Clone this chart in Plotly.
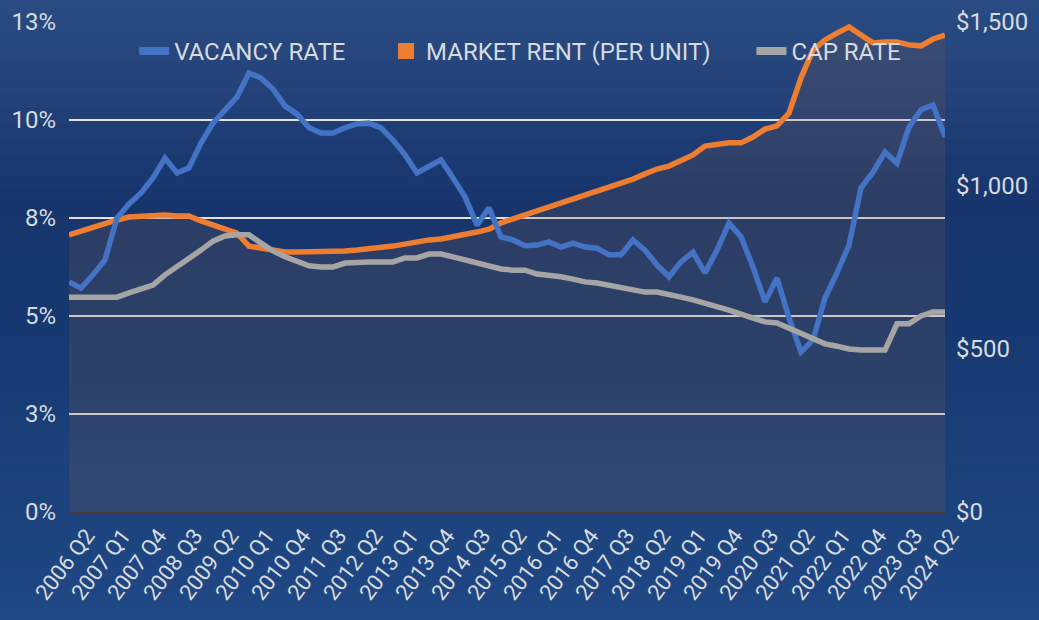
import plotly.graph_objects as go

quarters = [
    "2006 Q2", "2006 Q3", "2006 Q4",
    "2007 Q1", "2007 Q2", "2007 Q3", "2007 Q4",
    "2008 Q1", "2008 Q2", "2008 Q3", "2008 Q4",
    "2009 Q1", "2009 Q2", "2009 Q3", "2009 Q4",
    "2010 Q1", "2010 Q2", "2010 Q3", "2010 Q4",
    "2011 Q1", "2011 Q2", "2011 Q3", "2011 Q4",
    "2012 Q1", "2012 Q2", "2012 Q3", "2012 Q4",
    "2013 Q1", "2013 Q2", "2013 Q3", "2013 Q4",
    "2014 Q1", "2014 Q2", "2014 Q3", "2014 Q4",
    "2015 Q1", "2015 Q2", "2015 Q3", "2015 Q4",
    "2016 Q1", "2016 Q2", "2016 Q3", "2016 Q4",
    "2017 Q1", "2017 Q2", "2017 Q3", "2017 Q4",
    "2018 Q1", "2018 Q2", "2018 Q3", "2018 Q4",
    "2019 Q1", "2019 Q2", "2019 Q3", "2019 Q4",
    "2020 Q1", "2020 Q2", "2020 Q3", "2020 Q4",
    "2021 Q1", "2021 Q2", "2021 Q3", "2021 Q4",
    "2022 Q1", "2022 Q2", "2022 Q3", "2022 Q4",
    "2023 Q1", "2023 Q2", "2023 Q3", "2023 Q4",
    "2024 Q1", "2024 Q2", "2024 Q3",
]

vacancy_rate = [
    5.87, 5.71, 6.05, 6.43, 7.50, 7.86, 8.14, 8.52, 9.03, 8.65,
    8.78, 9.41, 9.92, 10.26, 10.59, 11.20, 11.07, 10.79, 10.36, 10.15,
    9.80, 9.67, 9.67, 9.80, 9.90, 9.92, 9.80, 9.49, 9.11, 8.65,
    8.80, 8.98, 8.52, 8.04, 7.32, 7.76, 7.02, 6.94, 6.79, 6.81,
    6.89, 6.76, 6.86, 6.76, 6.73, 6.56, 6.56, 6.94, 6.68, 6.30,
    6.00, 6.38, 6.63, 6.10, 6.68, 7.37, 7.02, 6.25, 5.36, 5.97,
    4.95, 4.08, 4.39, 5.46, 6.10, 6.81, 8.27, 8.67, 9.18, 8.90,
    9.82, 10.26, 10.38, 9.57,
]

market_rent = [
    848, 860, 872, 885, 894, 903, 906, 909, 909, 906,
    906, 891, 879, 866, 854, 814, 808, 802, 796, 796,
    796, 796, 799, 799, 802, 805, 808, 814, 820, 827,
    833, 836, 842, 848, 857, 866, 885, 897, 909, 921,
    934, 943, 955, 967, 980, 995, 1004, 1019, 1035, 1050,
    1059, 1078, 1093, 1120, 1127, 1130, 1130, 1148, 1172, 1182,
    1221, 1329, 1414, 1445, 1466, 1485, 1460, 1436, 1439, 1439,
    1430, 1427, 1448, 1460,
]

cap_rate = [
    5.48, 5.48, 5.48, 5.48, 5.48, 5.59, 5.69, 5.79, 6.05, 6.25,
    6.45, 6.68, 6.91, 7.04, 7.07, 7.07, 6.86, 6.66, 6.51, 6.38,
    6.28, 6.25, 6.25, 6.35, 6.38, 6.38, 6.38, 6.38, 6.48, 6.48,
    6.58, 6.58, 6.51, 6.43, 6.35, 6.25, 6.20, 6.17, 6.17, 6.07,
    6.05, 6.00, 5.94, 5.87, 5.84, 5.79, 5.71, 5.66, 5.61, 5.61,
    5.56, 5.48, 5.41, 5.33, 5.23, 5.15, 5.05, 4.95, 4.85, 4.82,
    4.69, 4.57, 4.41, 4.29, 4.23, 4.16, 4.13, 4.13, 4.13, 4.80,
    4.80, 5.00, 5.10, 5.10,
]

series_names = ["VACANCY RATE", "MARKET RENT (PER UNIT)", "CAP RATE"]
x_tick_labels = quarters[::3]
pct_tick_vals = [0, 2.5, 5, 7.5, 10, 12.5]
pct_tick_text = ["0%", "3%", "5%", "8%", "10%", "13%"]
rent_tick_vals = [0, 500, 1000, 1500]
rent_tick_text = ["$0", "$500", "$1,000", "$1,500"]

BLUE = "#4472C4"
ORANGE = "#ED7D31"
GREY = "#A5A5A5"
TEXT = "#D6DAE2"
FONT = "Roboto"
NBSP = "\u00a0"
PAD = NBSP * 6
LW = 5.5

fig = go.Figure()

# Market rent on the primary (right-hand) axis, with translucent area beneath
fig.add_trace(go.Scatter(
    x=quarters, y=market_rent, yaxis="y", mode="lines",
    line=dict(color=ORANGE, width=LW),
    fill="tozeroy", fillcolor="rgba(130,95,75,0.20)",
    showlegend=False, name=series_names[1],
))
fig.add_trace(go.Scatter(
    x=quarters, y=vacancy_rate, yaxis="y2", mode="lines",
    line=dict(color=BLUE, width=LW),
    showlegend=False, name=series_names[0],
))
fig.add_trace(go.Scatter(
    x=quarters, y=cap_rate, yaxis="y2", mode="lines",
    line=dict(color=GREY, width=LW),
    showlegend=False, name=series_names[2],
))

# legend entries
fig.add_trace(go.Scatter(x=[None], y=[None], yaxis="y2", mode="lines",
                         line=dict(color=BLUE, width=8), name=series_names[0] + PAD))
fig.add_trace(go.Scatter(x=[None], y=[None], yaxis="y", mode="markers",
                         marker=dict(symbol="square", size=22, color=ORANGE),
                         name=series_names[1] + PAD))
fig.add_trace(go.Scatter(x=[None], y=[None], yaxis="y2", mode="lines",
                         line=dict(color=GREY, width=8), name=series_names[2]))

# background gradient (paper)
stops = [(0, (42, 76, 130)), (90, (35, 66, 122)), (200, (23, 53, 108)),
         (320, (22, 56, 112)), (460, (27, 64, 122)), (620, (31, 72, 132))]
shapes = []
n_bands = 40
H = 620
for b in range(n_bands):
    y_top = b * H / n_bands
    y_mid = y_top + H / n_bands / 2
    for (p0, c0), (p1, c1) in zip(stops[:-1], stops[1:]):
        if p0 <= y_mid <= p1:
            t = (y_mid - p0) / (p1 - p0)
            c = tuple(int(round(c0[k] + (c1[k] - c0[k]) * t)) for k in range(3))
            break
    shapes.append(dict(type="rect", xref="paper", yref="paper",
                       x0=-0.2, x1=1.2,
                       y0=1 + (22 / 490) - (b + 1) * H / n_bands / 490 - 0.001,
                       y1=1 + (22 / 490) - b * H / n_bands / 490 + 0.001,
                       line=dict(width=0), fillcolor="rgb(%d,%d,%d)" % c,
                       layer="below"))

fig.update_layout(
    width=1039, height=620,
    margin=dict(l=69, r=94, t=22, b=108, autoexpand=False),
    paper_bgcolor="rgb(28,60,115)",
    plot_bgcolor="rgba(0,0,0,0)",
    font=dict(family=FONT, color=TEXT, size=24),
    shapes=shapes,
    showlegend=True,
    legend=dict(
        orientation="h", x=0.515, xanchor="center", y=0.94, yanchor="middle",
        bgcolor="rgba(0,0,0,0)", font=dict(size=24, color=TEXT, family=FONT),
        itemwidth=30, traceorder="normal",
    ),
    xaxis=dict(
        type="category", range=[0, len(quarters) - 1],
        tickmode="array", tickvals=x_tick_labels, ticktext=x_tick_labels,
        tickangle=-53, tickfont=dict(size=22, color=TEXT),
        ticklabelshift=18, automargin=False,
        showgrid=False, showline=True, linecolor="#4a3a32", linewidth=2,
        ticks="", zeroline=False,
    ),
    yaxis=dict(
        side="right", range=[0, 1500],
        tickmode="array", tickvals=rent_tick_vals, ticktext=rent_tick_text,
        showgrid=False, zeroline=False, ticks="", automargin=False,
        ticklabelstandoff=10,
        tickfont=dict(size=24, color=TEXT),
    ),
    yaxis2=dict(
        overlaying="y", side="left", range=[0, 12.5],
        tickmode="array", tickvals=pct_tick_vals, ticktext=pct_tick_text,
        showgrid=True, gridcolor="#E2E0E2", gridwidth=2,
        zeroline=False, ticks="", automargin=False,
        ticklabelstandoff=12,
        tickfont=dict(size=24, color=TEXT),
    ),
    hovermode=False,
)

fig.write_html(
    "out.html",
    config={"displayModeBar": False},
    post_script="document.body.style.margin='0';document.body.style.overflow='hidden';",
)
